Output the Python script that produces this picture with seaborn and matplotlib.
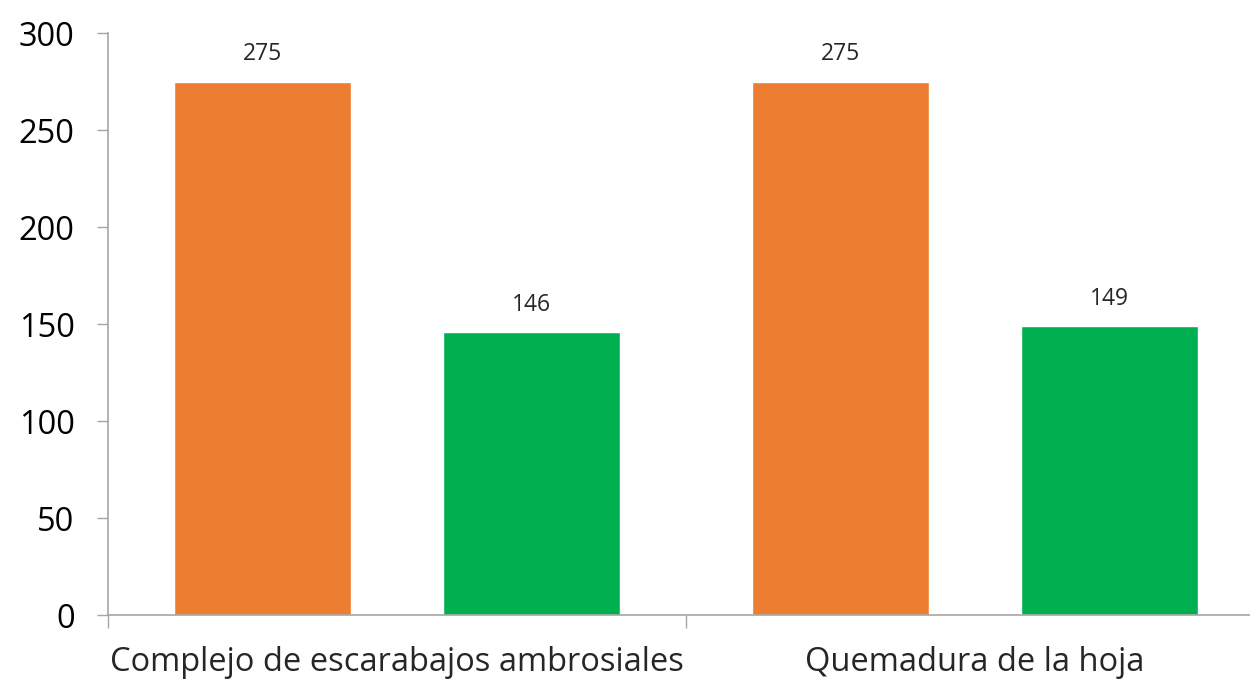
import numpy as np
import pandas as pd
import matplotlib
matplotlib.use('Agg')
import matplotlib.pyplot as plt
import seaborn as sns

# datos
categorias = ['Complejo de escarabajos ambrosiales', 'Quemadura de la hoja']
series = ['Serie 1', 'Serie 2']
serie1 = [275, 275]
serie2 = [146, 149]
colores = ['#ED7D31', '#00B050']

sns.set_style('white')
plt.rcParams['font.family'] = ['Open Sans', 'DejaVu Sans']

df = pd.DataFrame({
    'categoria': categorias * 2,
    'serie': [series[0]] * 2 + [series[1]] * 2,
    'valor': serie1 + serie2,
})

fig = plt.figure(figsize=(12.5, 6.81), dpi=100)
ax = fig.add_axes([0.0864, 0.0969, 1.0112 - 0.0864, 0.9515 - 0.0969])

sns.barplot(data=df, x='categoria', y='valor', hue='serie', palette=colores,
            width=0.928, gap=0.34, legend=False, saturation=1, ax=ax)

for cont in ax.containers:
    ax.bar_label(cont, fmt='%d', padding=11, fontsize=16.5, color='#262626')

ax.set_xlim(-0.5, 1.5)
ax.set_ylim(0, 300)
ax.set_yticks(np.arange(0, 301, 50))
ax.set_xlabel('')
ax.set_ylabel('')

# marcas del eje x entre categorias
ax.set_xticks([-0.5, 0.5, 1.5], minor=True)
ax.tick_params(axis='x', which='major', bottom=False, labelsize=23.5, pad=19)
ax.tick_params(axis='x', which='minor', bottom=True, length=9, width=1, color='#A6A6A6')
ax.tick_params(axis='y', left=True, length=8, width=1, color='#A6A6A6',
               labelsize=23.5, pad=16, labelcolor='black')

for s in ['top', 'right']:
    ax.spines[s].set_visible(False)
for s in ['left', 'bottom']:
    ax.spines[s].set_color('#A6A6A6')
    ax.spines[s].set_linewidth(1.2)

plt.savefig('out.png', dpi=100)
